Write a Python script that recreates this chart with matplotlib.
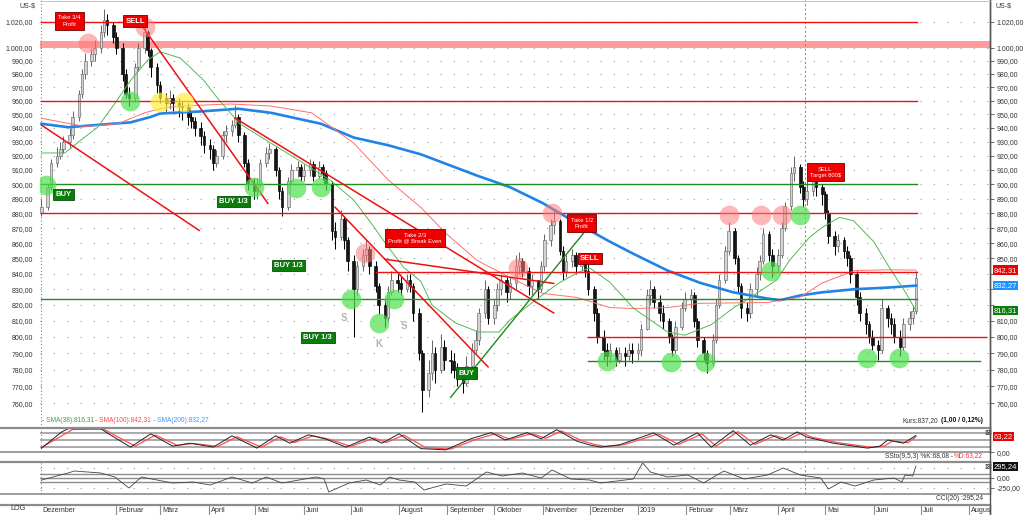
import matplotlib
matplotlib.use("Agg")
import matplotlib.pyplot as plt
import matplotlib.dates as mdates
import matplotlib.transforms as mtransforms
from matplotlib.lines import Line2D
from matplotlib.ticker import FixedLocator, FuncFormatter, NullLocator
import pandas as pd

plt.rcParams["font.family"] = ["Liberation Sans", "DejaVu Sans"]

# ---------------- data ----------------
bar_dates = pd.bdate_range("2017-12-15", "2019-06-28")[::2]
first_open = 880
closes = [
    884, 898, 915, 920, 925, 930,
    935, 948, 965, 980, 990, 995, 1000, 1012, 1022, 1018, 1008,
    1000, 980, 965, 962, 985, 1000, 1012, 998, 985, 972,
    962, 958, 962, 958, 956, 955, 948, 945, 940, 934, 928,
    925, 915, 920, 935, 938, 942, 948, 935, 915, 900, 895,
    900, 915, 922, 925, 910, 895, 884, 902, 910, 912, 906,
    910, 914, 906, 912, 908, 900, 868, 864, 876, 862, 848,
    830, 845, 852, 856, 845, 832, 820, 812, 828, 836, 834,
    830, 836, 832, 815, 790, 768, 778, 790, 780, 794, 786,
    785, 780, 776, 772, 782, 792, 798, 815, 830, 812,
    820, 830, 836, 828, 834, 845, 848, 842, 832, 836, 830, 845,
    862, 872, 875, 855, 842, 848, 852, 845, 848, 842, 830,
    815, 800, 792, 788, 792, 786, 790, 788, 792, 790,
    792, 805, 826, 830, 822, 815, 810, 800, 792, 806, 818, 824,
    826, 810, 798, 790, 784, 798, 820, 836, 855, 868,
    850, 832, 818, 815, 830, 840, 848, 866, 852, 845,
    852, 870, 885, 908, 912, 898, 890, 895, 905, 898, 893,
    880, 865, 858, 862, 855, 850, 840, 825, 815, 808, 800, 795,
    792, 818, 812, 808, 800, 794, 808, 812, 816, 837,
]
highs = [
    890, 900, 918, 926, 930, 934,
    940, 952, 968, 984, 996, 1000, 1006, 1018, 1030, 1026, 1020,
    1012, 1004, 984, 970, 988, 1004, 1018, 1014, 1000, 988,
    975, 966, 968, 965, 962, 960, 958, 952, 948, 944, 938,
    932, 928, 924, 938, 942, 946, 957, 950, 937, 918, 904,
    904, 918, 926, 929, 926, 912, 898, 905, 914, 916, 914,
    914, 918, 916, 916, 914, 910, 902, 874, 882, 878, 864,
    852, 848, 856, 862, 858, 848, 834, 824, 832, 842, 840,
    838, 840, 840, 834, 818, 792, 786, 798, 794, 802, 798,
    792, 790, 784, 780, 788, 796, 804, 818, 836, 832,
    824, 834, 840, 838, 838, 852, 854, 850, 844, 840, 836, 848,
    866, 876, 882, 876, 858, 852, 856, 854, 852, 850, 846,
    832, 818, 804, 796, 796, 794, 794, 794, 796, 796,
    796, 808, 830, 836, 832, 826, 820, 812, 802, 810, 822, 828,
    830, 828, 812, 800, 792, 802, 824, 840, 858, 874,
    870, 852, 834, 822, 834, 844, 852, 870, 868, 856,
    856, 874, 888, 912, 920, 914, 902, 902, 914, 908, 900,
    895, 882, 868, 866, 864, 858, 852, 842, 828, 818, 810, 804,
    798, 824, 820, 815, 812, 804, 812, 816, 820, 842,
]
lows = [
    878, 882, 896, 912, 918, 922,
    926, 932, 945, 962, 976, 986, 990, 996, 1008, 1010, 1004,
    995, 975, 962, 956, 960, 982, 996, 994, 978, 966,
    958, 952, 954, 952, 948, 946, 942, 940, 934, 928, 922,
    918, 910, 912, 918, 930, 934, 940, 930, 912, 896, 890,
    890, 898, 912, 918, 906, 890, 878, 882, 900, 905, 902,
    902, 906, 902, 904, 903, 896, 862, 856, 862, 856, 842,
    800, 826, 842, 848, 840, 828, 814, 806, 810, 826, 828,
    826, 828, 828, 810, 786, 755, 764, 774, 772, 778, 780,
    778, 775, 770, 766, 770, 780, 790, 795, 812, 808,
    808, 816, 826, 822, 824, 830, 840, 838, 826, 826, 824, 828,
    842, 858, 866, 852, 836, 838, 844, 840, 842, 838, 826,
    810, 796, 786, 782, 784, 782, 784, 782, 786, 784,
    786, 788, 804, 820, 818, 810, 805, 796, 788, 790, 804, 816,
    818, 806, 794, 786, 778, 782, 796, 818, 834, 852,
    846, 828, 812, 810, 812, 826, 836, 846, 848, 838,
    842, 850, 868, 882, 902, 894, 884, 886, 892, 892, 886,
    876, 860, 852, 854, 850, 845, 834, 820, 810, 802, 796, 792,
    786, 790, 806, 802, 796, 788, 792, 804, 808, 814,
]

sma200_dates = ["2017-12-15", "2018-01-01", "2018-02-10", "2018-02-23", "2018-03-01",
                "2018-03-27", "2018-04-20", "2018-05-11", "2018-06-12", "2018-07-03",
                "2018-07-25", "2018-08-15", "2018-09-20", "2018-10-11", "2018-11-01",
                "2018-11-17", "2018-12-01", "2018-12-14", "2018-12-29", "2019-01-20",
                "2019-02-10", "2019-03-03", "2019-03-25", "2019-04-02", "2019-04-15",
                "2019-04-29", "2019-05-20", "2019-06-10", "2019-06-28"]
sma200 = [943, 940.5, 944, 948, 950.5, 952, 954, 951, 943, 933, 927.5, 921, 906, 898, 887,
          877, 868.5, 861, 853, 842, 834, 828, 824, 823, 826, 828, 830, 831, 832.27]

sma100_dates = ["2017-12-15", "2018-01-12", "2018-02-02", "2018-02-19", "2018-03-01",
                "2018-03-14", "2018-04-15", "2018-05-11", "2018-06-06", "2018-07-03",
                "2018-07-25", "2018-08-15", "2018-08-31", "2018-09-20", "2018-10-11",
                "2018-11-01", "2018-11-23", "2018-12-14", "2018-12-29", "2019-01-20",
                "2019-02-10", "2019-03-25", "2019-04-15", "2019-04-29", "2019-05-20",
                "2019-06-10", "2019-06-28"]
sma100 = [947, 941, 943, 951, 954, 956, 957.5, 956, 951, 929, 903, 884, 866.5, 848.6, 837.5,
          827.3, 824.7, 818.3, 817.7, 818.3, 821, 821.5, 825, 834, 842, 842.5, 842.31]

sma38_dates = ["2017-12-15", "2017-12-30", "2018-01-09", "2018-01-20", "2018-01-31",
               "2018-02-10", "2018-02-21", "2018-03-01", "2018-03-14", "2018-03-29",
               "2018-04-08", "2018-04-21", "2018-05-11", "2018-06-01", "2018-06-18",
               "2018-07-03", "2018-07-14", "2018-07-25", "2018-08-04", "2018-08-15",
               "2018-08-22", "2018-09-06", "2018-09-21", "2018-10-04", "2018-10-11",
               "2018-10-27", "2018-11-11", "2018-11-24", "2018-12-01", "2018-12-14",
               "2018-12-29", "2019-01-20", "2019-01-31", "2019-02-17", "2019-03-03",
               "2019-03-14", "2019-03-31", "2019-04-08", "2019-04-21", "2019-04-29",
               "2019-05-10", "2019-05-19", "2019-06-01", "2019-06-11", "2019-06-22",
               "2019-06-28"]
sma38 = [922, 922, 931, 940.5, 958, 975, 990.5, 996.8, 992, 975, 960, 943, 929, 914.6, 902.8,
         889, 873.6, 857.5, 844, 835, 820, 808.7, 803, 803, 810.5, 822.8, 833.7, 841, 843.7,
         834.5, 818, 803, 801, 807.6, 818, 824.7, 836, 848.6, 864, 870.5, 877.3, 875, 861,
         844, 827, 816.31]

# horizontal levels: (price, from, to)
red_levels = [(1020, "2017-12-15", "2019-06-29"), (960, "2017-12-15", "2019-06-29"),
              (880, "2017-12-15", "2019-06-29"), (841, "2018-07-17", "2019-06-29"),
              (800, "2018-11-30", "2019-08-12")]
green_levels = [(900, "2017-12-15", "2019-06-29"), (824, "2017-12-15", "2019-06-29"),
                (785, "2018-11-30", "2019-08-08")]
resistance_band = (1000, 1005.5)

# trend lines: ((date, price), (date, price))
red_trends = [(("2017-12-15", 942), ("2018-03-26", 868.5)),
              (("2018-02-17", 1017.6), ("2018-05-09", 886.8)),
              (("2018-04-18", 947.1), ("2018-11-08", 814.9)),
              (("2018-06-21", 884.2), ("2018-09-27", 781.7)),
              (("2018-07-23", 849.4), ("2018-11-08", 833.7))]
green_trends = [(("2018-09-03", 763.5), ("2018-11-27", 866.5))]

pink_marks = [("2018-01-14", 1003.6), ("2018-02-19", 1016), ("2018-07-10", 853.8),
              ("2018-10-16", 843.4), ("2018-11-07", 880.1), ("2019-02-28", 878.8),
              ("2019-03-21", 878.8), ("2019-04-03", 878.8)]
green_marks = [("2017-12-18", 899.3), ("2018-02-10", 959.6), ("2018-04-30", 898),
               ("2018-05-27", 897.3), ("2018-06-12", 898), ("2018-07-01", 824),
               ("2018-07-19", 808.9), ("2018-07-29", 824), ("2018-12-12", 785),
               ("2019-01-22", 784.6), ("2019-02-13", 784.6), ("2019-03-27", 842),
               ("2019-04-15", 878.8), ("2019-05-28", 786.9), ("2019-06-17", 786.9)]
yellow_marks = [("2018-03-01", 958.9), ("2018-03-16", 958.9)]

red_notes = [("Take 3/4\nProfit", "2018-01-02", 1020.8), ("SELL", "2018-02-13", 1020.8),
             ("Take 2/3\nProfit @ Break Even", "2018-08-11", 863.3),
             ("Take 1/2\nProfit", "2018-11-26", 873.3), ("SELL", "2018-12-01", 850),
             ("SELL\nTarget 800$", "2019-05-01", 908.4)]
green_notes = [("BUY", "2017-12-29", 893), ("BUY 1/3", "2018-04-17", 888.1),
               ("BUY 1/3", "2018-05-22", 845.3), ("BUY 1/3", "2018-06-10", 799.6),
               ("BUY", "2018-09-13", 778)]
pattern_letters = [("S", "2018-06-27", 811.5), ("K", "2018-07-19", 795.9), ("S", "2018-08-04", 807)]

stoch_k_dates = ["2017-12-15", "2017-12-28", "2018-01-01", "2018-01-22", "2018-01-26",
                 "2018-02-10", "2018-02-23", "2018-03-09", "2018-03-20", "2018-04-04",
                 "2018-04-16", "2018-05-02", "2018-05-14", "2018-05-23", "2018-06-04",
                 "2018-06-15", "2018-06-28", "2018-07-13", "2018-07-21", "2018-08-01",
                 "2018-08-15", "2018-08-31", "2018-09-16", "2018-09-29", "2018-10-08",
                 "2018-10-22", "2018-10-31", "2018-11-10", "2018-11-23", "2018-12-01",
                 "2018-12-08", "2018-12-20", "2018-12-29", "2019-01-11", "2019-01-24",
                 "2019-02-08", "2019-02-17", "2019-03-03", "2019-03-14", "2019-03-27",
                 "2019-04-04", "2019-04-13", "2019-04-19", "2019-05-06", "2019-05-28",
                 "2019-06-05", "2019-06-10", "2019-06-20", "2019-06-28"]
stoch_k = [17, 83, 96, 96, 79, 21, 75, 25, 37, 21, 67, 17, 67, 37, 71, 54, 21, 62, 37, 75,
           15, 10, 55, 80, 50, 80, 55, 92, 45, 30, 21, 30, 50, 79, 29, 79, 21, 88, 29, 71,
           50, 83, 62, 37, 17, 25, 50, 37, 68.08]
stoch_d_dates = ["2017-12-15", "2017-12-31", "2018-01-04", "2018-01-24", "2018-01-29",
                 "2018-02-13", "2018-02-26", "2018-03-12", "2018-03-22", "2018-04-07",
                 "2018-04-19", "2018-05-05", "2018-05-17", "2018-05-26", "2018-06-07",
                 "2018-06-18", "2018-07-01", "2018-07-16", "2018-07-24", "2018-08-04",
                 "2018-08-18", "2018-09-03", "2018-09-19", "2018-10-02", "2018-10-11",
                 "2018-10-25", "2018-11-03", "2018-11-13", "2018-11-26", "2018-12-04",
                 "2018-12-11", "2018-12-23", "2019-01-01", "2019-01-14", "2019-01-27",
                 "2019-02-11", "2019-02-20", "2019-03-06", "2019-03-17", "2019-03-30",
                 "2019-04-07", "2019-04-16", "2019-04-22", "2019-05-09", "2019-05-31",
                 "2019-06-08", "2019-06-13", "2019-06-23", "2019-06-28"]
stoch_d = [20, 78, 93, 94, 76, 25, 70, 28, 36, 24, 63, 21, 63, 40, 67, 52, 24, 58, 40, 70,
           19, 13, 52, 76, 52, 76, 57, 87, 47, 32, 24, 31, 49, 75, 32, 75, 25, 84, 32, 68,
           52, 79, 62, 39, 20, 26, 46, 39, 63.22]

cci_dates = ["2017-12-15", "2018-01-01", "2018-01-05", "2018-01-22", "2018-01-31",
             "2018-02-09", "2018-02-17", "2018-02-27", "2018-03-09", "2018-03-22",
             "2018-04-02", "2018-04-16", "2018-04-29", "2018-05-08", "2018-05-18",
             "2018-06-09", "2018-06-14", "2018-06-17", "2018-06-30", "2018-07-11",
             "2018-07-20", "2018-07-26", "2018-08-01", "2018-08-11", "2018-08-17",
             "2018-08-31", "2018-09-13", "2018-09-26", "2018-10-06", "2018-10-19",
             "2018-10-31", "2018-11-07", "2018-11-19", "2018-12-01", "2018-12-08",
             "2018-12-29", "2019-01-04", "2019-01-09", "2019-01-20", "2019-02-02",
             "2019-02-12", "2019-02-25", "2019-03-10", "2019-03-25", "2019-04-04",
             "2019-04-15", "2019-04-28", "2019-05-03", "2019-05-11", "2019-05-20",
             "2019-06-01", "2019-06-14", "2019-06-19", "2019-06-21", "2019-06-26",
             "2019-06-28"]
cci = [-50, 125, 175, 125, 25, -250, 25, -50, -125, -100, -175, 25, -125, 25, -125, 25,
       -25, -350, -125, -50, -175, 25, -50, -100, -300, -150, -200, 150, 50, 125, 0, 200,
       -25, -50, -125, -25, 375, 150, 25, 75, -125, 175, -25, 75, 250, 75, 0, -275, -100,
       -200, -50, 0, -100, 75, 50, 295.24]

month_starts = ["2018-02-01", "2018-03-01", "2018-04-01", "2018-05-01", "2018-06-01",
                "2018-07-01", "2018-08-01", "2018-09-01", "2018-10-01", "2018-11-01",
                "2018-12-01", "2019-01-01", "2019-02-01", "2019-03-01", "2019-04-01",
                "2019-05-01", "2019-06-01", "2019-07-01", "2019-08-01"]
month_labels = ["Februar", "März", "April", "Mai", "Juni", "Juli", "August", "September",
                "Oktober", "November", "Dezember", "2019", "Februar", "März", "April", "Mai",
                "Juni", "Juli", "August"]
price_ticks = [760, 770, 780, 790, 800, 810, 820, 830, 840, 850, 860, 870, 880, 890, 900,
               910, 920, 930, 940, 950, 960, 970, 980, 990, 1000, 1020]
signal_date = "2019-04-18"
last_price = 837.20


def de(v):
    s = f"{v:,.2f}"
    return s.replace(",", "#").replace(".", ",").replace("#", ".")


def dn(s):
    return mdates.date2num(pd.Timestamp(s))


# ---------------- figure ----------------
W, H = 1024, 515
fig = plt.figure(figsize=(W / 100, H / 100), dpi=100)
L, R = 40 / W, 950 / W
ax = fig.add_axes([L, 1 - 427.7 / H, R, 427.7 / H])
ax_st = fig.add_axes([L, 1 - 452.3 / H, R, 24.6 / H])
ax_cci = fig.add_axes([L, 1 - 494 / H, R, 32 / H])
ax_dt = fig.add_axes([L, 0, R, 10 / H])

xlim = (dn("2017-12-14 01:00"), dn("2019-08-14 11:00"))
grey = "#8c8c8c"
txt = "#333333"

for a in (ax, ax_st, ax_cci, ax_dt):
    a.set_xlim(*xlim)
    a.set_xticks([])
    a.spines["left"].set_visible(False)
    a.spines["top"].set_visible(False)
    a.spines["bottom"].set_visible(False)
    a.spines["right"].set_color("#555555")
    a.spines["right"].set_linewidth(1.0)

# main price panel
ax.set_yscale("log")
ax.set_ylim(745.85, 1037.5)
ax.yaxis.set_major_locator(FixedLocator(price_ticks))
ax.yaxis.set_major_formatter(FuncFormatter(lambda v, p: de(v)))
ax.yaxis.set_minor_locator(NullLocator())
ax.tick_params(axis="y", left=False, right=True, labelleft=True, labelright=True,
               length=3, width=0.6, color="#555555", labelsize=5, labelcolor=txt, pad=2)
# right-hand labels hidden behind the value tags
for tk, val in zip(ax.yaxis.get_major_ticks(), price_ticks):
    if val in (820, 830, 840):
        tk.label2.set_visible(False)
for t in price_ticks:
    ax.axhline(t, color="#9a9a9a", lw=0.8, ls=(0, (1, 11)), zorder=0)

ax.axhspan(*resistance_band, color="#ff9c9c", lw=0, zorder=1)

d = mdates.date2num(bar_dates)
opens = [first_open] + closes[:-1]
ups = [c >= o for o, c in zip(opens, closes)]
edges = ["#6a6a6a" if u else "#000000" for u in ups]
faces = ["#d4d4d4" if u else "#151515" for u in ups]
ax.vlines(d, lows, highs, colors=edges, lw=0.75, zorder=3)
ax.bar(d, [max(abs(c - o), 0.8) for o, c in zip(opens, closes)],
       bottom=[min(o, c) for o, c in zip(opens, closes)], width=1.7,
       color=faces, edgecolor=edges, lw=0.45, zorder=4)

ax.plot([dn(s) for s in sma200_dates], sma200, color="#1f84e6", lw=1.9, zorder=5)
ax.plot([dn(s) for s in sma100_dates], sma100, color="#ff6f6f", lw=0.7, zorder=5)
ax.plot([dn(s) for s in sma38_dates], sma38, color="#55b955", lw=0.7, zorder=5)

for p, a0, a1 in red_levels:
    ax.plot([dn(a0), dn(a1)], [p, p], color="#ee1111", lw=1.0, zorder=6)
for p, a0, a1 in green_levels:
    ax.plot([dn(a0), dn(a1)], [p, p], color="#1e8c1e", lw=1.0, zorder=6)
for (a0, p0), (a1, p1) in red_trends:
    ax.plot([dn(a0), dn(a1)], [p0, p1], color="#ee1111", lw=1.1, zorder=6)
for (a0, p0), (a1, p1) in green_trends:
    ax.plot([dn(a0), dn(a1)], [p0, p1], color="#1e8c1e", lw=1.0, zorder=6)

for marks, col, al in ((pink_marks, "#ff7a7a", 0.55), (green_marks, "#4fe04f", 0.7),
                       (yellow_marks, "#fff03c", 0.7)):
    ax.scatter([dn(s) for s, _ in marks], [p for _, p in marks], s=200, color=col,
               alpha=al, lw=0, zorder=7)

for label, s, p in red_notes:
    multi = "\n" in label
    ax.text(dn(s), p, label, ha="center", va="center", color="white",
            fontsize=4.2 if multi else 5.5, fontweight="normal" if multi else "bold",
            linespacing=1.3, zorder=9,
            bbox=dict(boxstyle="square,pad=0.55" if multi else "square,pad=0.3",
                      fc="#ee0000", ec="#700000", lw=0.6))
for label, s, p in green_notes:
    ax.text(dn(s), p, label, ha="center", va="center", color="white", fontsize=5.5,
            fontweight="bold", zorder=9,
            bbox=dict(boxstyle="square,pad=0.3", fc="#0a7d0a", ec="#0a4d0a", lw=0.6))
for label, s, p in pattern_letters:
    ax.text(dn(s), p, label, ha="center", va="center", color="#b4b4b4", fontsize=7,
            fontweight="bold", zorder=9)

# right-hand value tags
tag = mtransforms.blended_transform_factory(ax.transAxes, ax.transData)
for v, col in ((sma100[-1], "#ee0000"), (sma200[-1], "#1e90ff"), (sma38[-1], "#0a7d0a")):
    ax.text(1.004, v, de(v), transform=tag, ha="left", va="center", color="white",
            fontsize=5.5, zorder=10, clip_on=False,
            bbox=dict(boxstyle="square,pad=0.15", fc=col, ec="none"))

fig.text(35 / W, 1 - 6 / H, "US-$", ha="right", va="center", fontsize=5, color=txt)
fig.text(995 / W, 1 - 6 / H, "US-$", ha="left", va="center", fontsize=5, color=txt)

ly = 1 - 421 / H
fig.text(42 / W, ly, "- SMA(38):" + de(sma38[-1]), color="#3aa53a", fontsize=4.8, va="center")
fig.text(95 / W, ly, "- SMA(100):" + de(sma100[-1]), color="#ff4a4a", fontsize=4.8, va="center")
fig.text(153 / W, ly, "- SMA(200):" + de(sma200[-1]), color="#3c96ff", fontsize=4.8, va="center")
fig.text(938 / W, ly, "Kurs:" + de(last_price), color=txt, fontsize=4.8, ha="right", va="center")
fig.text(983 / W, ly, "(1,00 / 0,12%)", color="#111111", fontsize=4.8, ha="right",
         va="center", fontweight="bold")

# stochastic panel
ax_st.set_ylim(0, 100)
for lv in (20, 50, 80):
    ax_st.axhline(lv, color="#9c9c9c", lw=1.2, zorder=0)
ax_st.plot([dn(s) for s in stoch_d_dates], stoch_d, color="#ff5050", lw=0.9, zorder=2)
ax_st.plot([dn(s) for s in stoch_k_dates], stoch_k, color="#222222", lw=0.7, zorder=3)
ax_st.yaxis.set_major_locator(FixedLocator([0]))
ax_st.yaxis.set_major_formatter(FuncFormatter(lambda v, p: de(v)))
ax_st.tick_params(axis="y", left=False, right=True, labelleft=False, labelright=True,
                  length=3, width=0.6, color="#555555", labelsize=5, labelcolor=txt, pad=2)
ax_st.text(1.004, stoch_d[-1], de(stoch_d[-1]),
           transform=mtransforms.blended_transform_factory(ax_st.transAxes, ax_st.transData),
           ha="left", va="center", color="white", fontsize=5.5, clip_on=False,
           bbox=dict(boxstyle="square,pad=0.15", fc="#ee0000", ec="none"))
ax_st.text(0.9975, 0.8, "\u22a0", transform=ax_st.transAxes, ha="center", va="center",
           fontsize=6, color="#333333", family="DejaVu Sans")
sy = 1 - 456 / H
fig.text(953 / W, sy, "SSto(9,5,3) %K:" + de(stoch_k[-1]) + " -", color=txt, fontsize=4.8,
         ha="right", va="center")
fig.text(983 / W, sy, "%D:" + de(stoch_d[-1]), color="#ff3030", fontsize=4.8, ha="right",
         va="center")

# CCI panel
ax_cci.set_ylim(-400, 400)
for lv in (100, 0, -100):
    ax_cci.axhline(lv, color="#8c8c8c", lw=1.0, zorder=0)
for lv in (250, -250):
    ax_cci.axhline(lv, color="#9a9a9a", lw=0.8, ls=(0, (1, 11)), zorder=0)
ax_cci.plot([dn(s) for s in cci_dates], cci, color="#444444", lw=0.6, zorder=3)
ax_cci.yaxis.set_major_locator(FixedLocator([0, -250]))
ax_cci.yaxis.set_major_formatter(FuncFormatter(lambda v, p: de(v)))
ax_cci.tick_params(axis="y", left=False, right=True, labelleft=False, labelright=True,
                   length=3, width=0.6, color="#555555", labelsize=5, labelcolor=txt, pad=2)
ax_cci.text(1.004, cci[-1], de(cci[-1]),
            transform=mtransforms.blended_transform_factory(ax_cci.transAxes, ax_cci.transData),
            ha="left", va="center", color="white", fontsize=5.5, clip_on=False,
            bbox=dict(boxstyle="square,pad=0.15", fc="#111111", ec="none"))
ax_cci.text(0.9975, 0.87, "\u22a0", transform=ax_cci.transAxes, ha="center", va="center",
            fontsize=6, color="#333333", family="DejaVu Sans")
fig.text(983 / W, 1 - 499 / H, "CCI(20) :" + de(cci[-1]), color=txt, fontsize=4.8,
         ha="right", va="center")

# signal and start markers through all panels
for a in (ax, ax_st, ax_cci):
    a.axvline(dn(signal_date), color="#ff6060", lw=0.8, ls=(0, (2, 2)), zorder=1)
    a.axvline(dn(bar_dates[0]), color="#3cb43c", lw=0.8, ls=(0, (1, 2)), zorder=1)
ax_dt.set_yticks([])
ax_dt.set_ylim(0, 1)
for s in month_starts:
    ax_dt.axvline(dn(s), color="#8c8c8c", lw=0.8)
lab = mtransforms.offset_copy(ax_dt.transData, fig=fig, x=2, y=0, units="dots")
for s, lbl in zip(month_starts, month_labels):
    ax_dt.text(dn(s), 0.45, lbl, transform=mtransforms.blended_transform_factory(
        lab, ax_dt.transAxes), ha="left", va="center", fontsize=5.2, color=txt, clip_on=True)
ax_dt.text(0.002, 0.45, "Dezember", transform=ax_dt.transAxes, ha="left", va="center",
           fontsize=5.2, color=txt)
fig.text(18 / W, 1 - 509 / H, "LOG", ha="center", va="center", fontsize=5.2, color=txt)

# panel separators
for yy, lw in ((427.7, 1.6), (452.3, 1.2), (461.7, 1.6), (494, 1.2), (505, 1.6)):
    fig.add_artist(Line2D([0, 990 / W], [1 - yy / H] * 2, color=grey, lw=lw))
fig.add_artist(Line2D([990 / W] * 2, [0, 1], color="#555555", lw=1.0))
fig.add_artist(Line2D([40 / W, 990 / W], [1 - 0.5 / H] * 2, color="#bbbbbb", lw=0.6))

fig.savefig("out.png", dpi=100, facecolor="white")
